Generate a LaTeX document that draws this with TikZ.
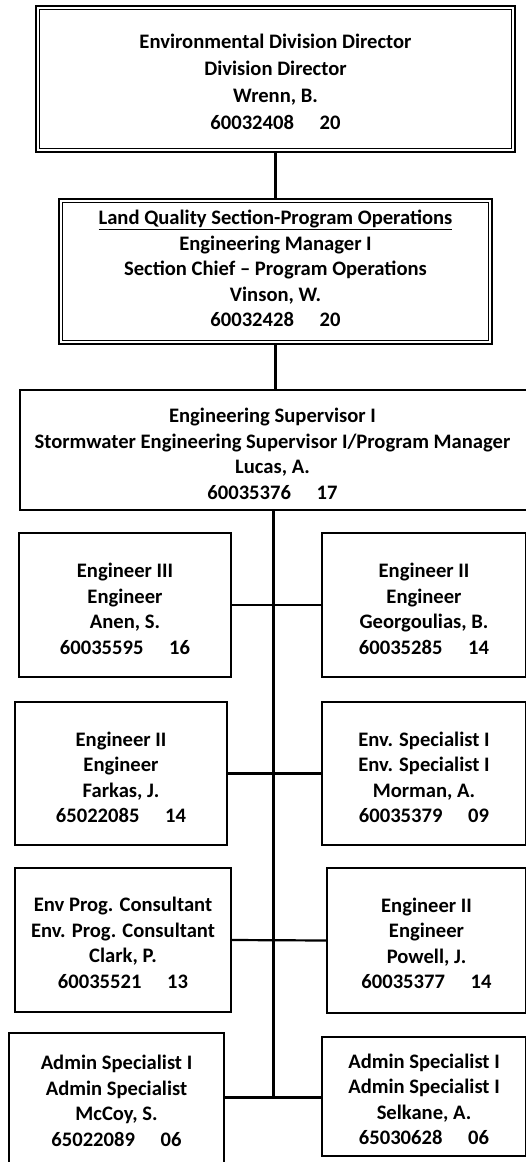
\documentclass[tikz,border=0pt]{standalone}
\usepackage{fontspec}
\setmainfont{Carlito}
\newcommand{\gap}{\hspace{1.25em}}
\begin{document}
\begin{tikzpicture}[x=1pt,y=-1pt,
  frame/.style={draw, line width=1.3pt, inner sep=0pt},
  txt/.style={align=center, inner sep=0pt,
    font=\bfseries\fontsize{20.6}{25.5}\selectfont},
  link/.style={line width=2.2pt},
  trunk/.style={line width=2.8pt}]
\useasboundingbox (0,0) rectangle (525,1162);
% top box (double border)
\node[frame, minimum width=479pt, minimum height=146pt] (top) at (275.5,79) {};
\draw[line width=1pt] ([shift={(4.5pt,-4.5pt)}]top.north west) rectangle ([shift={(-4.5pt,4.5pt)}]top.south east);
\node[txt, font=\bfseries\fontsize{20.6}{27}\selectfont] (topt) at ([yshift=-3pt]top.center)
  {Environmental Division Director\\Division Director\\Wrenn, B.\\60032408\gap 20};
% section box (double border)
\node[frame, minimum width=433pt, minimum height=145pt] (sec) at (275.5,271.5) {};
\draw[line width=1pt] ([shift={(4pt,-4pt)}]sec.north west) rectangle ([shift={(-4pt,4pt)}]sec.south east);
\node[txt] (sect) at ([yshift=3pt]sec.center)
  {\underline{Land Quality Section-Program Operations}\\Engineering Manager I\\Section Chief -- Program Operations\\Vinson, W.\\60032428\gap 20};
% supervisor
\node[frame, minimum width=507pt, minimum height=120pt] (sup) at (273.5,450) {};
\node[txt] (supt) at ([xshift=-1pt,yshift=-4pt]sup.center)
  {Engineering Supervisor I\\Stormwater Engineering Supervisor I/Program Manager\\Lucas, A.\\60035376\gap 17};
% row 1
\node[frame, minimum width=212pt, minimum height=144pt] (a1) at (125,605) {};
\node[txt] (a1t) at ([yshift=-4pt]a1.center) {Engineer III\\Engineer\\Anen, S.\\60035595\gap 16};
\node[frame, minimum width=204pt, minimum height=144pt] (b1) at (424,605) {};
\node[txt] (b1t) at ([yshift=-4pt]b1.center) {Engineer II\\Engineer\\Georgoulias, B.\\60035285\gap 14};
% row 2
\node[frame, minimum width=212pt, minimum height=143pt] (a2) at (121,773.5) {};
\node[txt] (a2t) at ([yshift=-4pt]a2.center) {Engineer II\\Engineer\\Farkas, J.\\65022085\gap 14};
\node[frame, minimum width=204pt, minimum height=143pt] (b2) at (424,773.5) {};
\node[txt] (b2t) at ([yshift=-4pt]b2.center) {Env. Specialist I\\Env. Specialist I\\Morman, A.\\60035379\gap 09};
% row 3
\node[frame, minimum width=216pt, minimum height=144pt] (a3) at (123,940) {};
\node[txt] (a3t) at ([yshift=-3pt]a3.center) {Env Prog. Consultant\\Env. Prog. Consultant\\Clark, P.\\60035521\gap 13};
\node[frame, minimum width=199pt, minimum height=145pt] (b3) at (426.5,940.5) {};
\node[txt] (b3t) at ([yshift=-3pt]b3.center) {Engineer II\\Engineer\\Powell, J.\\60035377\gap 14};
% row 4
\node[frame, minimum width=215pt, minimum height=134pt] (a4) at (116.5,1100) {};
\node[txt] (a4t) at ([yshift=-1pt]a4.center) {Admin Specialist I\\Admin Specialist\\McCoy, S.\\65022089\gap 06};
\node[frame, minimum width=204pt, minimum height=119pt] (b4) at (424,1096.5) {};
\node[txt] (b4t) at ([yshift=-3pt]b4.center) {Admin Specialist I\\Admin Specialist I\\Selkane, A.\\65030628\gap 06};
% connectors
\draw[link] (top.south) -- (sec.north);
\draw[link] (sec.south) -- (sec.south |- sup.north);
\coordinate (bot) at (273.5,1097.5);
\draw[trunk] (sup.south) -- (bot);
\draw[link] (a1.east) -- (b1.west);
\draw[link] (a2.east) -- (b2.west);
\draw[link] (a3.east) -- (b3.west);
\draw[link] (a4.east |- bot) -- (b4.west |- bot);
\end{tikzpicture}
\end{document}
